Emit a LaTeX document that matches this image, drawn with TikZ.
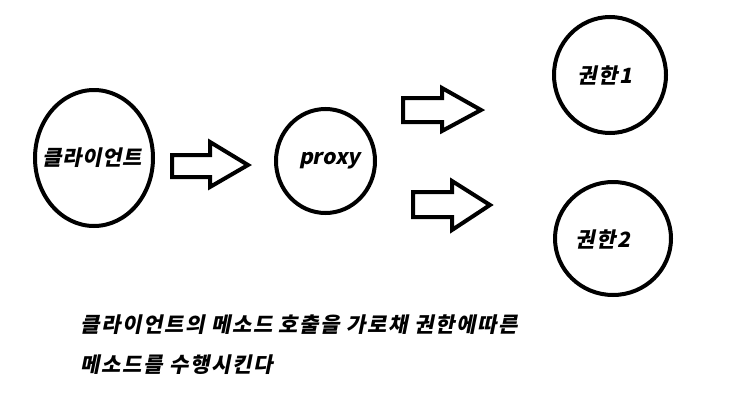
\documentclass[tikz,border=0pt]{standalone}
\usepackage{fontspec}
\newfontfamily\kr[FakeSlant=0.2,LetterSpace=8]{Noto Sans CJK KR}
\newfontfamily\krtight[FakeSlant=0.2,LetterSpace=4]{Noto Sans CJK KR}
\newfontfamily\krplain[FakeSlant=0.2]{Noto Sans CJK KR}
\usetikzlibrary{shapes.geometric}
\tikzset{
  bubble/.style={ellipse, draw=black, line width=4pt, inner sep=0pt, outer sep=0pt},
  lbl/.style={font=\kr\bfseries\fontsize{21}{25}\selectfont, inner sep=0pt},
  lbltight/.style={font=\krtight\bfseries\fontsize{21}{25}\selectfont, inner sep=0pt},
  lblplain/.style={font=\krplain\bfseries\fontsize{21}{25}\selectfont, inner sep=0pt},
  blockarrow/.style={draw=black, line width=4pt, line join=miter, fill=white},
}
\begin{document}
\begin{tikzpicture}[x=1pt,y=-1pt]
\useasboundingbox (0,0) rectangle (739,407);
\fill[white] (0,0) rectangle (739,407);

\node[bubble, minimum width=118pt, minimum height=136pt,
      label={[lbltight,xshift=-2pt]center:클라이언트}] (client) at (94,158) {};
\node[bubble, minimum width=99pt, minimum height=104pt,
      label={[lblplain,xshift=4pt]center:proxy}] (proxy) at (325.5,161) {};
\node[bubble, minimum width=112pt, minimum height=116pt,
      label={[lbl,xshift=-5pt]center:권한1}] (auth1) at (610,75) {};
\node[bubble, minimum width=116pt, minimum height=113pt,
      label={[lbl,xshift=-10pt,yshift=-1pt]center:권한2}] (auth2) at (613,238.5) {};

\draw[blockarrow] (172,155) -- (210,155) -- (210,142) -- (248,165) -- (210,187) -- (210,177) -- (172,177) -- cycle;
\draw[blockarrow] (403,98) -- (442,98) -- (442,88) -- (481,110) -- (442,131) -- (442,122) -- (403,122) -- cycle;
\draw[blockarrow] (413,192) -- (452,192) -- (452,181) -- (490,205) -- (452,230) -- (452,217) -- (413,217) -- cycle;

\node[lbl, anchor=west] (line1) at (80,325) {클라이언트의 메소드 호출을 가로채 권한에따른};
\node[lbl, anchor=west] (line2) at (80,365) {메소드를 수행시킨다};
\end{tikzpicture}
\end{document}
